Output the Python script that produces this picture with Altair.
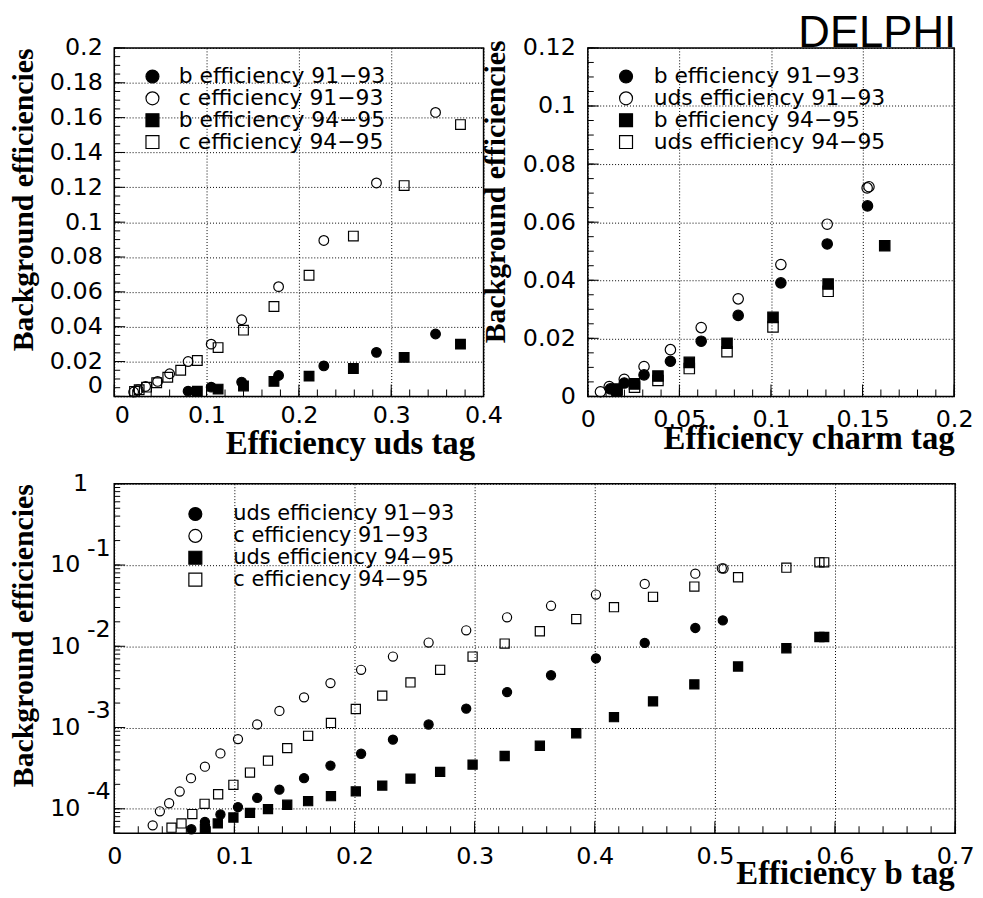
import altair as alt
import pandas as pd

SP = "\u00a0"      # padding space
ZW = "\u200b"      # keeps the padding from being trimmed

# ---------------- panel 1 : background efficiencies vs uds-tag efficiency ----------------
P1_NAMES = ["b efficiency 91\u221293", "c efficiency 91\u221293",
            "b efficiency 94\u221295", "c efficiency 94\u221295"]
P1_B9193_X = [0.080, 0.105, 0.138, 0.178, 0.227, 0.284, 0.348]
P1_B9193_Y = [0.0030, 0.0053, 0.0082, 0.0120, 0.0175, 0.0253, 0.0358]
P1_C9193_X = [0.021, 0.026, 0.034, 0.047, 0.060, 0.080, 0.105, 0.138, 0.178, 0.227, 0.284, 0.348]
P1_C9193_Y = [0.0025, 0.0038, 0.0057, 0.0086, 0.0130, 0.0200, 0.0300, 0.0440, 0.0630, 0.0895, 0.1225, 0.1630]
P1_B9495_X = [0.090, 0.1125, 0.140, 0.173, 0.211, 0.259, 0.314, 0.375]
P1_B9495_Y = [0.0030, 0.0042, 0.0060, 0.0086, 0.0116, 0.0160, 0.0224, 0.0300]
P1_C9495_X = [0.022, 0.027, 0.035, 0.046, 0.058, 0.072, 0.090, 0.1125, 0.140, 0.173, 0.211, 0.259, 0.314, 0.375]
P1_C9495_Y = [0.0029, 0.0038, 0.0053, 0.0078, 0.0110, 0.0150, 0.0206, 0.0280, 0.0380, 0.0516, 0.0695, 0.0920, 0.1210, 0.1560]
P1_XLABELS = [0, 0.1, 0.2, 0.3, 0.4]
P1_YLABELS = [0, 0.02, 0.04, 0.06, 0.08, 0.1, 0.12, 0.14, 0.16, 0.18, 0.2]

# ---------------- panel 2 : background efficiencies vs charm-tag efficiency ----------------
P2_NAMES = ["b efficiency 91\u221293", "uds efficiency 91\u221293",
            "b efficiency 94\u221295", "uds efficiency 94\u221295"]
P2_B9193_X = [0.0123, 0.0199, 0.0307, 0.0451, 0.0619, 0.0821, 0.1054, 0.1307, 0.1527]
P2_B9193_Y = [0.0026, 0.0046, 0.0074, 0.0121, 0.0190, 0.0279, 0.0391, 0.0525, 0.0656]
P2_U9193_X = [0.0069, 0.0117, 0.0199, 0.0307, 0.0451, 0.0619, 0.0821, 0.1054, 0.1307, 0.1525, 0.1535]
P2_U9193_Y = [0.0016, 0.0034, 0.0059, 0.0103, 0.0161, 0.0237, 0.0336, 0.0454, 0.0593, 0.0718, 0.0722]
P2_B9495_X = [0.0159, 0.0255, 0.0383, 0.0554, 0.0760, 0.1011, 0.1312, 0.1621]
P2_B9495_Y = [0.0025, 0.0043, 0.0070, 0.0117, 0.0183, 0.0272, 0.0387, 0.0519]
P2_U9495_X = [0.0159, 0.0255, 0.0383, 0.0554, 0.0760, 0.1011, 0.1312]
P2_U9495_Y = [0.0021, 0.0032, 0.0055, 0.0096, 0.0154, 0.0239, 0.0362]
P2_XLABELS = [0, 0.05, 0.1, 0.15, 0.2]
P2_YLABELS = [0, 0.02, 0.04, 0.06, 0.08, 0.1, 0.12]

# ---------------- panel 3 : background efficiencies vs b-tag efficiency (log) ----------------
P3_NAMES = ["uds efficiency 91\u221293", "c efficiency 91\u221293",
            "uds efficiency 94\u221295", "c efficiency 94\u221295"]
P3_U9193_X = [0.0642, 0.0755, 0.0884, 0.103, 0.119, 0.1375, 0.158, 0.180, 0.2055, 0.232, 0.2617,
              0.293, 0.327, 0.3636, 0.401, 0.4416, 0.4837, 0.5066]
P3_U9193_Y = [5.6e-5, 6.9e-5, 8.5e-5, 1.05e-4, 1.36e-4, 1.72e-4, 2.38e-4, 3.4e-4, 4.76e-4, 7.1e-4,
              1.09e-3, 1.71e-3, 2.73e-3, 4.4e-3, 7.1e-3, 0.011, 0.0168, 0.0208]
P3_C9193_X = [0.032, 0.038, 0.0457, 0.0545, 0.0639, 0.0755, 0.0884, 0.103, 0.119, 0.1375, 0.158,
              0.180, 0.2055, 0.232, 0.2617, 0.293, 0.327, 0.3636, 0.401, 0.4416, 0.4837, 0.5058, 0.5072]
P3_C9193_Y = [6.25e-5, 9.3e-5, 1.17e-4, 1.63e-4, 2.38e-4, 3.3e-4, 4.8e-4, 7.2e-4, 1.09e-3, 1.6e-3,
              2.35e-3, 3.52e-3, 5.13e-3, 7.47e-3, 0.0111, 0.0157, 0.0227, 0.0315, 0.0433, 0.0585,
              0.0783, 0.0910, 0.0905]
P3_U9495_X = [0.0755, 0.0862, 0.0992, 0.113, 0.128, 0.144, 0.1614, 0.1804, 0.2011, 0.2231, 0.2466,
              0.2713, 0.2983, 0.325, 0.3543, 0.3846, 0.416, 0.4485, 0.4829, 0.5193, 0.5595, 0.587, 0.591]
P3_U9495_Y = [5.7e-5, 6.6e-5, 7.8e-5, 8.9e-5, 9.9e-5, 1.12e-4, 1.24e-4, 1.43e-4, 1.64e-4, 1.93e-4,
              2.35e-4, 2.84e-4, 3.49e-4, 4.46e-4, 5.97e-4, 8.5e-4, 1.34e-3, 2.1e-3, 3.4e-3, 5.64e-3,
              9.45e-3, 0.0130, 0.0130]
P3_C9495_X = [0.0477, 0.056, 0.065, 0.0752, 0.0865, 0.0992, 0.113, 0.128, 0.144, 0.1614, 0.1804,
              0.2011, 0.2231, 0.2466, 0.2713, 0.2983, 0.325, 0.3543, 0.3846, 0.416, 0.4485, 0.4829,
              0.5193, 0.5595, 0.587, 0.591]
P3_C9495_Y = [5.85e-5, 6.6e-5, 8.6e-5, 1.15e-4, 1.51e-4, 1.97e-4, 2.79e-4, 3.91e-4, 5.58e-4, 7.9e-4,
              1.14e-3, 1.69e-3, 2.47e-3, 3.59e-3, 5.13e-3, 7.47e-3, 0.0108, 0.0153, 0.0216, 0.0303,
              0.0406, 0.0543, 0.0707, 0.0927, 0.108, 0.108]
P3_XLABELS = [0, 0.1, 0.2, 0.3, 0.4, 0.5, 0.6, 0.7]
P3_YLABELS = [1e-4, 1e-3, 1e-2, 1e-1, 1]

# tick positions (axis decoration)
P1_XMINOR = [round(i * 0.02, 3) for i in range(21)]
P1_YMINOR = [round(i * 0.005, 4) for i in range(41)]
P2_XMINOR = [round(i * 0.01, 3) for i in range(21)]
P2_YMINOR = [round(i * 0.005, 4) for i in range(25)]
P3_XMINOR = [round(i * 0.02, 3) for i in range(36)]
P3_YMINOR = [k * 10.0 ** e for e in range(-5, 0) for k in range(1, 10) if 5e-5 <= k * 10.0 ** e <= 1]

SHAPES = ["circle", "circle", "square", "square"]
FILLS = ["black", "transparent", "black", "transparent"]
STROKES = ["black", "black", "black", "black"]
NUM_EXPR = "format(datum.value, '.2~f')"


def frame(names, xs, ys):
    rows = []
    for n, xl, yl in zip(names, xs, ys):
        for a, b in zip(xl, yl):
            rows.append({"series": n, "x": a, "y": b})
    return pd.DataFrame(rows)


AX = dict(grid=True, gridColor="black", gridDash=[1, 2], gridWidth=1, gridOpacity=1,
          ticks=False, domain=False, labelFont="DejaVu Sans", labelFontSize=24,
          labelColor="black", labelOverlap=False, labelFlush=False,
          titleFont="Liberation Serif", titleFontWeight="bold", titleColor="black")


def ticks_y(vals, length, scale, axis):
    return alt.Chart(pd.DataFrame({"y": vals})).mark_tick(
        orient="horizontal", size=length, thickness=1, color="black", opacity=1
    ).encode(y=alt.Y("y:Q", scale=scale, axis=axis), x=alt.value(length / 2))


def ticks_x(vals, length, scale, h, axis):
    return alt.Chart(pd.DataFrame({"x": vals})).mark_tick(
        orient="vertical", size=length, thickness=1, color="black", opacity=1
    ).encode(x=alt.X("x:Q", scale=scale, axis=axis), y=alt.value(h - length / 2))


def panel(df, names, xscale, yscale, xaxis, yaxis, legend, w, h, msize,
          xmaj, xmin, ymaj, ymin):
    pts = alt.Chart(df).mark_point(
        filled=True, size=msize, strokeWidth=1.2, opacity=1
    ).encode(
        x=alt.X("x:Q", scale=xscale, axis=xaxis),
        y=alt.Y("y:Q", scale=yscale, axis=yaxis),
        shape=alt.Shape("series:N", scale=alt.Scale(domain=names, range=SHAPES), legend=legend),
        fill=alt.Fill("series:N", scale=alt.Scale(domain=names, range=FILLS), legend=legend),
        stroke=alt.Stroke("series:N", scale=alt.Scale(domain=names, range=STROKES), legend=legend),
    )
    layers = [
        pts,
        ticks_x(xmin, 7, xscale, h, xaxis), ticks_x(xmaj, 12, xscale, h, xaxis),
        ticks_y(ymin, 6, yscale, yaxis), ticks_y(ymaj, 11, yscale, yaxis),
    ]
    return alt.layer(*layers).properties(width=w, height=h)


def make_legend(x, y, off, fs):
    return alt.Legend(title=None, orient="none", legendX=x, legendY=y, direction="vertical",
                      padding=0, rowPadding=0, labelOffset=off, labelFont="DejaVu Sans",
                      labelFontSize=fs, labelColor="black", labelLimit=600,
                      symbolSize=170, symbolStrokeWidth=1.2)


# ---------- panel 1 ----------
W1, H1 = 372, 351
df1 = frame(P1_NAMES, [P1_B9193_X, P1_C9193_X, P1_B9495_X, P1_C9495_X],
            [P1_B9193_Y, P1_C9193_Y, P1_B9495_Y, P1_C9495_Y])
xs1 = alt.Scale(domain=[0, 0.4], nice=False, zero=False)
ys1 = alt.Scale(domain=[0, 0.2], nice=False, zero=False)
xa1 = alt.Axis(values=P1_XLABELS, labelExpr=NUM_EXPR, labelPadding=7.6,
               labelAlign={"condition": {"test": "datum.value == 0", "value": "left"}, "value": "center"},
               title="Efficiency uds tag", titleFontSize=33, titleAlign="right",
               titleBaseline="alphabetic", titleX=W1 - 9, titleY=58, **AX)
ya1 = alt.Axis(values=P1_YLABELS, labelExpr=NUM_EXPR, labelPadding=12,
               labelOffset={"condition": {"test": "datum.value == 0", "value": -11}, "value": 0},
               title="Background efficiencies", titleFontSize=30, titleAngle=270,
               titleAlign="right", titleBaseline="alphabetic", titleX=-82, titleY=0, **AX)
p1 = panel(df1, P1_NAMES, xs1, ys1, xa1, ya1, make_legend(27.5, 17.8, 15.5, 22), W1, H1, 95,
           P1_XLABELS, P1_XMINOR, P1_YLABELS, P1_YMINOR)

# ---------- panel 2 ----------
W2, H2 = 369, 351
df2 = frame(P2_NAMES, [P2_B9193_X, P2_U9193_X, P2_B9495_X, P2_U9495_X],
            [P2_B9193_Y, P2_U9193_Y, P2_B9495_Y, P2_U9495_Y])
xs2 = alt.Scale(domain=[0, 0.2], nice=False, zero=False)
ys2 = alt.Scale(domain=[0, 0.12], nice=False, zero=False)
xa2 = alt.Axis(values=P2_XLABELS, labelExpr=NUM_EXPR, labelPadding=10.9,
               title="Efficiency charm tag", titleFontSize=33, titleAlign="right",
               titleBaseline="alphabetic", titleX=W2, titleY=52, **AX)
ya2 = alt.Axis(values=P2_YLABELS, labelExpr=NUM_EXPR, labelPadding=12.5,
               title="Background efficiencies", titleFontSize=30, titleAngle=270,
               titleAlign="right", titleBaseline="alphabetic", titleX=-84, titleY=-8, **AX)
p2 = panel(df2, P2_NAMES, xs2, ys2, xa2, ya2, make_legend(27.5, 17.8, 16.8, 22), W2, H2, 110,
           P2_XLABELS, P2_XMINOR, P2_YLABELS, P2_YMINOR)
delphi = alt.Chart(pd.DataFrame({"t": ["DELPHI"]})).mark_text(
    align="right", baseline="alphabetic", font="Liberation Sans", fontSize=44, color="black"
).encode(text="t:N", x=alt.value(W2 + 2), y=alt.value(-1))
p2 = alt.layer(p2, delphi)

# ---------- panel 3 ----------
W3, H3 = 847, 352
df3 = frame(P3_NAMES, [P3_U9193_X, P3_C9193_X, P3_U9495_X, P3_C9495_X],
            [P3_U9193_Y, P3_C9193_Y, P3_U9495_Y, P3_C9495_Y])
xs3 = alt.Scale(domain=[0, 0.7], nice=False, zero=False)
ys3 = alt.Scale(type="log", domain=[5e-5, 1], nice=False, zero=False)
xa3 = alt.Axis(values=P3_XLABELS, labelExpr=NUM_EXPR, labelPadding=11.5,
               title="Efficiency b tag", titleFontSize=33, titleAlign="right",
               titleBaseline="alphabetic", titleX=W3 - 1, titleY=51, **AX)
LOG_EXPR = (f"datum.value >= 0.5 ? ['', '1{SP * 3}{ZW}'] : "
            f"['-' + round(-log(datum.value) / LN10), '10{SP * 4}{ZW}']")
ya3 = alt.Axis(values=P3_YLABELS, labelExpr=LOG_EXPR, labelPadding=4, labelLineHeight=17,
               labelOffset=-17,
               title="Background efficiencies", titleFontSize=30, titleAngle=270,
               titleAlign="right", titleBaseline="alphabetic", titleX=-82, titleY=0, **AX)
p3 = panel(df3, P3_NAMES, xs3, ys3, xa3, ya3, make_legend(71.2, 20, 27.8, 21), W3, H3, 85,
           [0, 0.1, 0.2, 0.3, 0.4, 0.5, 0.6, 0.7], P3_XMINOR, P3_YLABELS, P3_YMINOR)

IND = dict(shape="independent", fill="independent", stroke="independent")
top = alt.hconcat(p1, p2, spacing=105, bounds="flush").resolve_scale(**IND).resolve_legend(**IND)
chart = alt.vconcat(top, p3, spacing=-8).resolve_scale(**IND).resolve_legend(**IND).properties(
    padding=0, background="white"
).configure_view(stroke="black", strokeWidth=1.5)

chart.save("out.html", embed_options={"renderer": "svg", "actions": False})
